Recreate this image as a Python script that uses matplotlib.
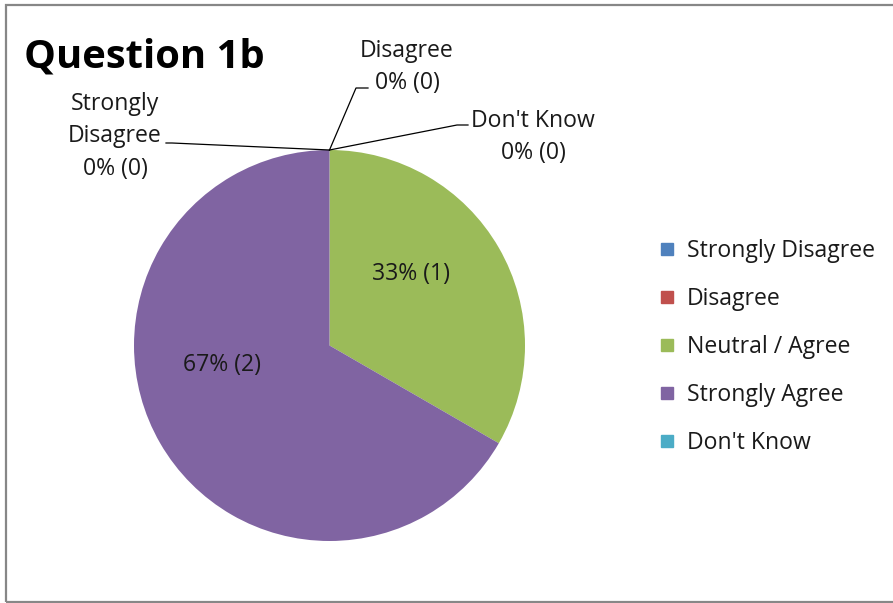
import matplotlib
matplotlib.use("Agg")
import matplotlib.pyplot as plt
from matplotlib.lines import Line2D
from matplotlib.patches import Rectangle

categories = ["Strongly Disagree", "Disagree", "Neutral / Agree", "Strongly Agree", "Don't Know"]
counts = [0, 0, 1, 2, 0]
colors = ["#4F81BD", "#C0504D", "#9BBB59", "#8064A2", "#4BACC6"]
title = "Question 1b"

plt.rcParams['font.family'] = ['Open Sans', 'DejaVu Sans']

W, H = 893, 603
fig = plt.figure(figsize=(W / 100, H / 100), dpi=100)
ax = fig.add_axes([0, 0, 1, 1])

def py(y):
    return H - y

cx, cy, r = 329.5, py(345.5), 195.5
wedges, _ = ax.pie(counts, colors=colors, startangle=90, counterclock=False,
                   center=(cx, cy), radius=r, frame=True,
                   wedgeprops=dict(linewidth=0))
ax.set_xlim(0, W)
ax.set_ylim(0, H)
ax.set_aspect('equal')
ax.axis('off')

total = sum(counts)
def lab(c):
    return f"{round(100 * c / total)}% ({c})"

fs = 16.6
tc = "#1a1a1a"
ls = 1.48
# inside labels
ax.text(411, py(274.5), lab(counts[2]), ha='center', va='center', fontsize=fs, color=tc)
ax.text(222, py(365), lab(counts[3]), ha='center', va='center', fontsize=fs, color=tc)

# outside labels for zero slices
top = (cx, py(150))
ax.text(115, py(136.5), f"{categories[0].replace(' ', chr(10))}\n{lab(counts[0])}",
        ha='center', va='center', fontsize=fs, color=tc, linespacing=ls)
ax.plot([166, 172, top[0]], [py(143), py(143), top[1]], color='black', lw=0.9)

ax.text(407, py(67), f"{categories[1]}\n{lab(counts[1])}",
        ha='center', va='center', fontsize=fs, color=tc, linespacing=ls)
ax.plot([368, 356, top[0]], [py(88), py(88), top[1]], color='black', lw=0.9)

ax.text(533, py(137), f"{categories[4]}\n{lab(counts[4])}",
        ha='center', va='center', fontsize=fs, color=tc, linespacing=ls)
ax.plot([468, 457, top[0]], [py(125), py(125), top[1]], color='black', lw=0.9)

# title
ax.text(24, py(67), title, ha='left', va='baseline', fontsize=28.8, fontweight='bold', color='black')

# legend
handles = [Line2D([], [], marker='s', linestyle='', markersize=8, color=c) for c in colors]
leg = ax.legend(handles, categories, loc='upper left', bbox_to_anchor=(659 / W, 1 - 239 / H),
                frameon=False, fontsize=fs, handlelength=0.7, handletextpad=0.5,
                labelspacing=1.04, borderpad=0, borderaxespad=0, labelcolor=tc)

# frame
fig.patches.append(Rectangle((5.5 / W, (H - 601.5) / H), 1.0, (601.5 - 4.5) / H,
                             transform=fig.transFigure, fill=False, edgecolor='#878787', lw=1.6))

fig.savefig("out.png", dpi=100)
